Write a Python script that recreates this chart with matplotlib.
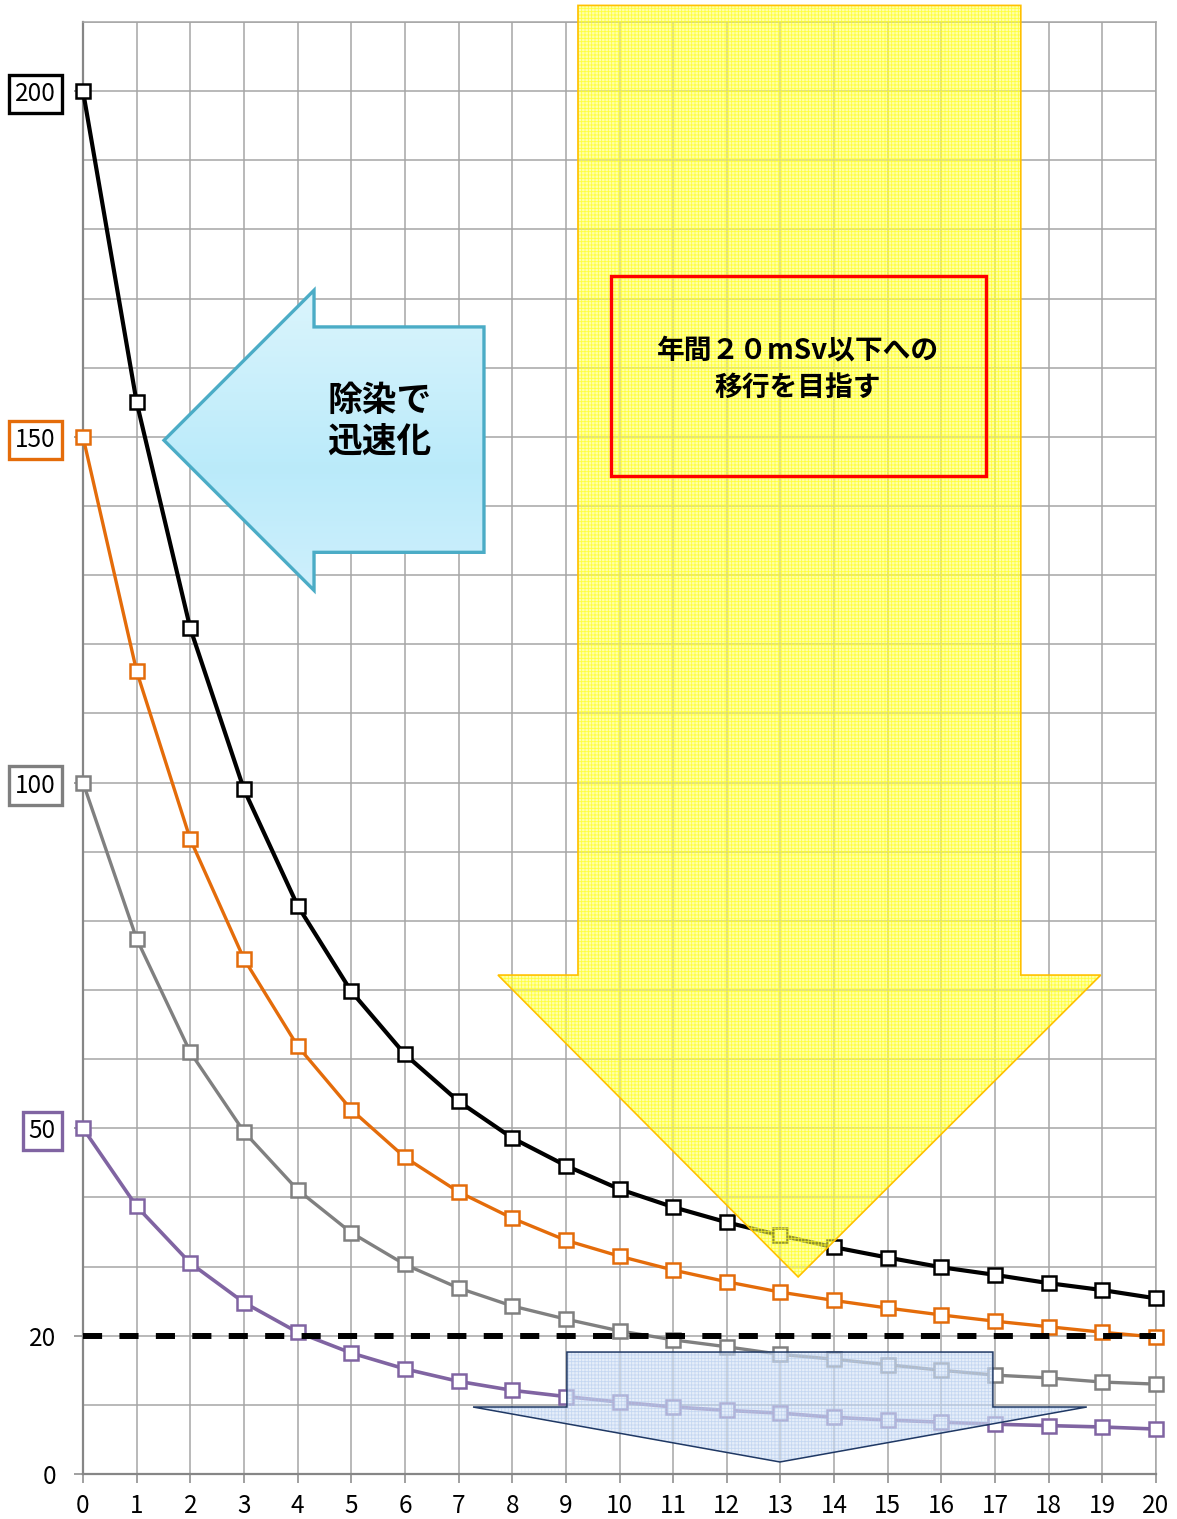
import numpy as np
import matplotlib
matplotlib.use("Agg")
import matplotlib.pyplot as plt
from matplotlib.patches import Polygon, Rectangle

plt.rcParams['font.family'] = ['Noto Sans CJK JP', 'DejaVu Sans']
plt.rcParams['hatch.linewidth'] = 0.6

# yearly dose (mSv) over 20 years for four starting levels
years = list(range(21))
dose_200 = [200, 155.0, 122.3, 99.0, 82.2, 69.8, 60.7, 53.9, 48.6, 44.6, 41.2,
            38.6, 36.4, 34.5, 32.8, 31.3, 29.9, 28.8, 27.6, 26.6, 25.4]
dose_150 = [150, 116.1, 91.8, 74.5, 61.9, 52.7, 45.8, 40.8, 37.0, 33.8, 31.5,
            29.5, 27.8, 26.3, 25.1, 24.0, 23.0, 22.1, 21.3, 20.5, 19.8]
dose_100 = [100, 77.4, 61.0, 49.5, 41.1, 34.9, 30.3, 26.9, 24.3, 22.4, 20.7,
            19.4, 18.4, 17.3, 16.6, 15.8, 15.0, 14.3, 13.9, 13.3, 13.0]
dose_50 = [50, 38.7, 30.5, 24.8, 20.5, 17.5, 15.2, 13.4, 12.1, 11.2, 10.4,
           9.7, 9.2, 8.8, 8.2, 7.8, 7.5, 7.2, 7.0, 6.8, 6.5]
target = 20

y_ticks = [0, 20, 50, 100, 150, 200]
boxed = {200: '#000000', 150: '#E46C0A', 100: '#7F7F7F', 50: '#8064A2'}

series = [
    (dose_200, '#000000', 3.0),
    (dose_150, '#E46C0A', 2.4),
    (dose_100, '#808080', 2.4),
    (dose_50, '#8064A2', 2.6),
]

fig = plt.figure(figsize=(11.77, 15.19), dpi=100)
ax = fig.add_axes([83 / 1177, 45 / 1519, 1073 / 1177, 1452 / 1519])
ax.set_xlim(0, 20)
ax.set_ylim(0, 210)

# grid
ax.set_xticks(years)
ax.set_yticks(y_ticks, labels=[str(v) for v in y_ticks])
ax.set_yticks(np.arange(0, 211, 10), minor=True)
ax.grid(True, which='both', color='#a6a6a6', linewidth=1.1)
ax.set_axisbelow(True)
for side in ['top', 'right']:
    ax.spines[side].set_color('#a6a6a6')
    ax.spines[side].set_linewidth(1.1)
for side in ['left', 'bottom']:
    ax.spines[side].set_color('#868686')
    ax.spines[side].set_linewidth(1.6)

ax.tick_params(axis='x', length=6.5, width=1.1, color='#868686', labelsize=17.5, pad=7)
ax.tick_params(axis='y', which='major', length=6.5, width=1.1, color='#868686',
               labelsize=17.5, pad=13)
ax.tick_params(axis='y', which='minor', length=0)

for lab in ax.get_yticklabels():
    val = int(lab.get_text())
    if val in boxed:
        lab.set_bbox(dict(boxstyle='square,pad=0.25', facecolor='white',
                          edgecolor=boxed[val], linewidth=2.4))

# dose curves
for vals, color, lw in series:
    ax.plot(years, vals, color=color, linewidth=lw, marker='s', markersize=10,
            markerfacecolor='white', markeredgecolor=color, markeredgewidth=1.8,
            zorder=3, clip_on=False)

ax.plot([0, 20], [target, target], color='black', linewidth=4.3,
        dashes=(3.2, 2.9), zorder=4)

# big yellow down arrow
yellow_pts = [(9.226, 212.4), (17.48, 212.4), (17.48, 72.16), (18.97, 72.16),
              (13.33, 28.5), (7.735, 72.16), (9.226, 72.16)]
ax.add_patch(Polygon(yellow_pts, closed=True, facecolor=(1, 1, 0.4, 0.55),
                     edgecolor='none', zorder=5, clip_on=False))
ax.add_patch(Polygon(yellow_pts, closed=True, facecolor='none',
                     edgecolor=(1, 1, 0.1, 0.75), hatch='+++++', linewidth=0,
                     zorder=5, clip_on=False))
ax.add_patch(Polygon(yellow_pts, closed=True, facecolor='none',
                     edgecolor='#FFC000', linewidth=1.2, zorder=5, clip_on=False))

ax.add_patch(Rectangle((9.84, 144.3), 16.83 - 9.84, 173.2 - 144.3,
                       facecolor='none', edgecolor='#FF0000', linewidth=2.4,
                       zorder=6))
ax.text(13.33, 159.8, '年間２０mSv以下への\n移行を目指す', ha='center', va='center',
        fontsize=20, fontweight='bold', linespacing=1.4, zorder=7)

# small blue down arrow
blue_pts = [(9.02, 17.64), (16.96, 17.64), (16.96, 9.69), (18.71, 9.69),
            (12.99, 1.74), (7.27, 9.69), (9.02, 9.69)]
ax.add_patch(Polygon(blue_pts, closed=True, facecolor=(0.84, 0.89, 0.96, 0.6),
                     edgecolor='none', zorder=5))
ax.add_patch(Polygon(blue_pts, closed=True, facecolor='none',
                     edgecolor=(0.65, 0.76, 0.92, 0.5), hatch='+++++', linewidth=0,
                     zorder=5))
ax.add_patch(Polygon(blue_pts, closed=True, facecolor='none',
                     edgecolor='#1F3864', linewidth=1.1, zorder=5))

# left-pointing arrow with gradient fill
left_pts = [(1.51, 149.5), (4.306, 171.2), (4.306, 165.9), (7.474, 165.9),
            (7.474, 133.3), (4.306, 133.3), (4.306, 127.8)]
left_arrow = Polygon(left_pts, closed=True, facecolor='none',
                     edgecolor='#4BACC6', linewidth=2.4, zorder=9)
ax.add_patch(left_arrow)
top_c = np.array([0.86, 0.96, 0.99])
mid_c = np.array([0.73, 0.92, 0.98])
bot_c = np.array([0.81, 0.94, 0.99])
t = np.linspace(0, 1, 200)[:, None]
grad = np.where(t < 0.6, top_c + (mid_c - top_c) * (t / 0.6),
                mid_c + (bot_c - mid_c) * ((t - 0.6) / 0.4))
img = ax.imshow(grad[:, None, :], extent=(1.51, 7.474, 127.8, 171.2),
                aspect='auto', zorder=8, interpolation='bilinear')
img.set_clip_path(left_arrow)
ax.text(5.52, 152.3, '除染で\n迅速化', ha='center', va='center', fontsize=25,
        fontweight='bold', linespacing=1.2, zorder=10)

ax.set_xlim(0, 20)
ax.set_ylim(0, 210)

fig.savefig('out.png', dpi=100)
